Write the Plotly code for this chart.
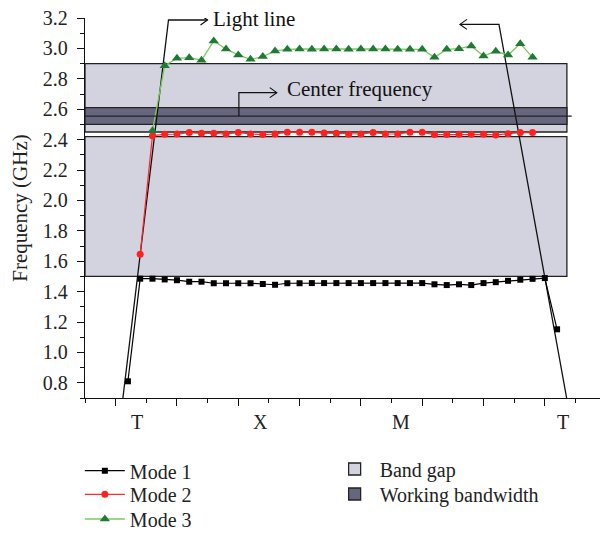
import plotly.graph_objects as go

# ---------------- data ----------------
mode1_x = list(range(1, 37))
mode1_y = [0.81, 1.485, 1.485, 1.48, 1.475, 1.465, 1.465, 1.455, 1.455, 1.455,
           1.455, 1.45, 1.445, 1.455, 1.455, 1.456, 1.456, 1.456, 1.456, 1.456,
           1.456, 1.456, 1.456, 1.456, 1.456, 1.448, 1.443, 1.448, 1.443, 1.456,
           1.462, 1.471, 1.478, 1.484, 1.489, 1.152]

mode2_x = list(range(2, 35))
mode2_y = [1.645, 2.426, 2.435, 2.437, 2.446, 2.441, 2.441, 2.437, 2.446, 2.437,
           2.433, 2.437, 2.448, 2.448, 2.448, 2.443, 2.441, 2.435, 2.437, 2.446,
           2.437, 2.437, 2.448, 2.448, 2.433, 2.433, 2.435, 2.435, 2.435, 2.431,
           2.439, 2.446, 2.446]

mode3_x = list(range(3, 35))
mode3_y = [2.459, 2.886, 2.935, 2.939, 2.922, 3.049, 2.996, 2.957, 2.928, 2.946,
           2.983, 2.994, 2.996, 2.994, 2.996, 2.996, 2.994, 2.996, 2.996, 2.996,
           2.994, 2.994, 2.994, 2.941, 2.994, 2.998, 3.016, 2.950, 2.981, 2.957,
           3.031, 2.941]

light_left_x = [0.59, 4.31, 7.49]
light_left_y = [0.70, 3.187, 3.187]
light_right_x = [36.78, 31.26, 28.08]
light_right_y = [0.70, 3.158, 3.158]

band_gaps = [(1.50, 2.42), (2.45, 2.90)]
working_band = (2.50, 2.61)
center_freq = 2.555
rect_x = (-2.5, 36.8)
center_line_x = (-2.5, 37.19)
center_bracket_x = (10.05, 13.14)
center_bracket_top = 2.709

x_labels = ["T", "X", "M", "T"]
x_label_pos = [1.76, 11.78, 23.27, 36.48]

# ---------------- figure ----------------
FONT = "Liberation Serif"
LFONT = dict(family=FONT, size=20, color="#222")
fig = go.Figure()

shapes = []
for i, (y0, y1) in enumerate(band_gaps):
    shapes.append(dict(type="rect", xref="x", yref="y", x0=rect_x[0], x1=rect_x[1],
                       y0=y0, y1=y1, fillcolor="#d3d3df", line=dict(color="#222", width=1.3),
                       layer="below", name="Band gap", showlegend=(i == 0), legend="legend4"))
shapes.append(dict(type="rect", xref="x", yref="y", x0=rect_x[0], x1=rect_x[1],
                   y0=working_band[0], y1=working_band[1], fillcolor="#66677f",
                   line=dict(color="#222", width=1.3), layer="below",
                   name="Working bandwidth", showlegend=True, legend="legend5"))
shapes.append(dict(type="line", xref="x", yref="y", x0=center_line_x[0], x1=center_line_x[1],
                   y0=center_freq, y1=center_freq, line=dict(color="#222", width=1.3)))
shapes.append(dict(type="path", xref="x", yref="y",
                   path=f"M{center_bracket_x[0]},{center_freq} L{center_bracket_x[0]},{center_bracket_top} "
                        f"L{center_bracket_x[1]},{center_bracket_top}",
                   line=dict(color="#111", width=1.2)))

def chevron(xa, ya, direction):
    d = -1 if direction == "right" else 1
    return dict(type="path", xref="x", yref="y", xsizemode="pixel", ysizemode="pixel",
                xanchor=xa, yanchor=ya, path=f"M{7*d},5 L0,0 L{7*d},-5",
                line=dict(color="#111", width=1.2))

shapes.append(chevron(center_bracket_x[1], center_bracket_top, "right"))
shapes.append(chevron(light_left_x[-1], light_left_y[-1], "right"))
shapes.append(chevron(light_right_x[-1], light_right_y[-1], "left"))

fig.add_trace(go.Scatter(x=light_left_x, y=light_left_y, mode="lines",
                         line=dict(color="#111", width=1.3), showlegend=False, hoverinfo="skip",
                         cliponaxis=False))
fig.add_trace(go.Scatter(x=light_right_x, y=light_right_y, mode="lines",
                         line=dict(color="#111", width=1.3), showlegend=False, hoverinfo="skip",
                         cliponaxis=False))

fig.add_trace(go.Scatter(x=mode1_x, y=mode1_y, mode="lines+markers", name="Mode 1",
                         line=dict(color="black", width=1.2),
                         marker=dict(symbol="square", size=6, color="black"), legend="legend"))
fig.add_trace(go.Scatter(x=mode2_x, y=mode2_y, mode="lines+markers", name="Mode 2",
                         line=dict(color="#ff2a2a", width=1.2),
                         marker=dict(symbol="circle", size=7, color="#ff2020"), legend="legend2"))
fig.add_trace(go.Scatter(x=mode3_x, y=mode3_y, mode="lines+markers", name="Mode 3",
                         line=dict(color="#7cc85c", width=1.3),
                         marker=dict(symbol="triangle-up", size=9, color="#1e7a34"), legend="legend3"))

annotations = []
for lab, pos in zip(x_labels, x_label_pos):
    annotations.append(dict(x=pos, y=0, xref="x", yref="paper", text=lab, showarrow=False,
                            yanchor="middle", yshift=-24, font=dict(family=FONT, size=20, color="#222")))
annotations.append(dict(x=light_left_x[-1] + 0.3, y=3.193, xref="x", yref="y", text="Light line",
                        showarrow=False, xanchor="left", yanchor="middle",
                        font=dict(family=FONT, size=21, color="#111")))
annotations.append(dict(x=center_bracket_x[1] + 0.7, y=2.73, xref="x", yref="y", text="Center frequency",
                        showarrow=False, xanchor="left", yanchor="middle",
                        font=dict(family=FONT, size=21, color="#111")))

def leg(x, y):
    return dict(x=x, y=y, xref="paper", yref="container", xanchor="left", yanchor="middle",
                orientation="v", font=LFONT, itemwidth=40, bgcolor="rgba(0,0,0,0)", tracegroupgap=0)

fig.update_layout(
    width=600, height=535,
    margin=dict(l=85, r=0, t=18, b=137),
    paper_bgcolor="white", plot_bgcolor="white",
    font=dict(family=FONT, size=20, color="#222"),
    shapes=shapes, annotations=annotations,
    xaxis=dict(range=[-2.5, 39.5], showline=True, linecolor="#111", linewidth=1.3,
               ticks="outside", tick0=0, dtick=5, ticklen=7, tickwidth=1.2, tickcolor="#111",
               showticklabels=False, showgrid=False, zeroline=False,
               minor=dict(ticks="outside", tick0=0, dtick=2.5, ticklen=4, tickwidth=1.2, tickcolor="#111")),
    yaxis=dict(range=[0.7, 3.2], showline=True, linecolor="#111", linewidth=1.3,
               ticks="outside", tick0=0, dtick=0.2, ticklen=7, tickwidth=1.2, tickcolor="#111",
               tickformat=".1f", showgrid=False, zeroline=False, ticklabelstandoff=5,
               tickfont=dict(family=FONT, size=20, color="#222"),
               title=dict(text="Frequency (GHz)", font=dict(family=FONT, size=21, color="#222"), standoff=9),
               minor=dict(ticks="outside", tick0=0, dtick=0.1, ticklen=4, tickwidth=1.2, tickcolor="#111")),
    legend=leg(-0.01, 0.1202),
    legend2=leg(-0.01, 0.0761),
    legend3=leg(-0.01, 0.0299),
    legend4=leg(0.475, 0.1234),
    legend5=leg(0.475, 0.0766),
)

fig.write_html("out.html")
